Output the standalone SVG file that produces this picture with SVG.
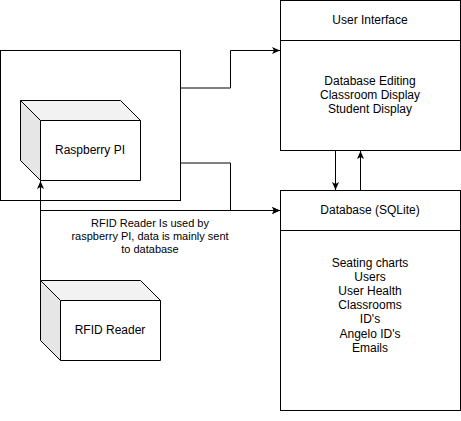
<svg xmlns="http://www.w3.org/2000/svg" width="461" height="421" viewBox="0 0 461 421">
<style>
.box{fill:#fff;stroke:#000;stroke-width:1}
.top{fill:#f2f2f2;stroke:none}
.side{fill:#e6e6e6;stroke:none}
.edge{fill:none;stroke:#000;stroke-width:1}
.t{font-family:"Liberation Sans",Arial,sans-serif;font-size:12px;fill:#000;text-anchor:middle}
.lbl{font-family:"Liberation Sans",Arial,sans-serif;font-size:11px;fill:#000;text-anchor:middle}
</style>
<defs>
<marker id="arr" markerUnits="userSpaceOnUse" markerWidth="10" markerHeight="10" refX="8" refY="4" orient="auto" viewBox="0 0 10 8">
<path d="M0,0.5 L8,4 L0,7.5 L2,4 Z" fill="#000"/>
</marker>
</defs>
<rect width="461" height="421" fill="#fff"/>
<g id="pi-container">
<rect class="box" x="0.5" y="50.5" width="180" height="150"/>
</g>
<g id="raspberry-pi">
<rect x="40.5" y="120.5" width="100" height="60" fill="#fff"/>
<polygon class="top" points="20.5,100.5 120.5,100.5 140.5,120.5 40.5,120.5"/>
<polygon class="side" points="20.5,100.5 40.5,120.5 40.5,180.5 20.5,160.5"/>
<path class="edge" d="M20.5,100.5 L120.5,100.5 L140.5,120.5 L140.5,180.5 L40.5,180.5 L20.5,160.5 Z M20.5,100.5 L40.5,120.5 L140.5,120.5 M40.5,120.5 L40.5,180.5"/>
<text class="t" x="90" y="154">Raspberry PI</text>
</g>
<g id="rfid-reader">
<rect x="60.5" y="300.5" width="100" height="60" fill="#fff"/>
<polygon class="top" points="40.5,280.5 140.5,280.5 160.5,300.5 60.5,300.5"/>
<polygon class="side" points="40.5,280.5 60.5,300.5 60.5,360.5 40.5,340.5"/>
<path class="edge" d="M40.5,280.5 L140.5,280.5 L160.5,300.5 L160.5,360.5 L60.5,360.5 L40.5,340.5 Z M40.5,280.5 L60.5,300.5 L160.5,300.5 M60.5,300.5 L60.5,360.5"/>
<text class="t" x="110" y="334">RFID Reader</text>
</g>
<g id="user-interface">
<rect class="box" x="280.5" y="0.5" width="180" height="150"/>
<line class="edge" x1="280.5" y1="40.5" x2="460.5" y2="40.5"/>
<text class="t" x="370" y="24">User Interface</text>
<text class="t" x="370" y="85">Database Editing</text>
<text class="t" x="370" y="99">Classroom Display</text>
<text class="t" x="370" y="113">Student Display</text>
</g>
<g id="database">
<rect class="box" x="280.5" y="190.5" width="180" height="220"/>
<line class="edge" x1="280.5" y1="230.5" x2="460.5" y2="230.5"/>
<text class="t" x="370" y="214">Database (SQLite)</text>
<text class="t" x="370" y="266.5">Seating charts</text>
<text class="t" x="370" y="280.7">Users</text>
<text class="t" x="370" y="294.9">User Health</text>
<text class="t" x="370" y="309.1">Classrooms</text>
<text class="t" x="370" y="323.3">ID's</text>
<text class="t" x="370" y="337.5">Angelo ID's</text>
<text class="t" x="370" y="351.7">Emails</text>
</g>
<g id="connectors">
<path class="edge" d="M180.5,88 L230.5,88 L230.5,50.5 L280,50.5" marker-end="url(#arr)"/>
<path class="edge" d="M180.5,163 L230.5,163 L230.5,210.5 L280,210.5" marker-end="url(#arr)"/>
<path class="edge" d="M40.5,280 L40.5,210.5 L280,210.5" marker-end="url(#arr)"/>
<path class="edge" d="M40.5,280 L40.5,181" marker-end="url(#arr)"/>
<path class="edge" d="M335.5,151 L335.5,190" marker-end="url(#arr)"/>
<path class="edge" d="M360.5,190 L360.5,151" marker-end="url(#arr)"/>
<text class="lbl" x="150" y="226.5">RFID Reader Is used by</text>
<text class="lbl" x="150" y="239.8">raspberry PI, data is mainly sent</text>
<text class="lbl" x="150" y="253.1">to database</text>
</g>
</svg>
